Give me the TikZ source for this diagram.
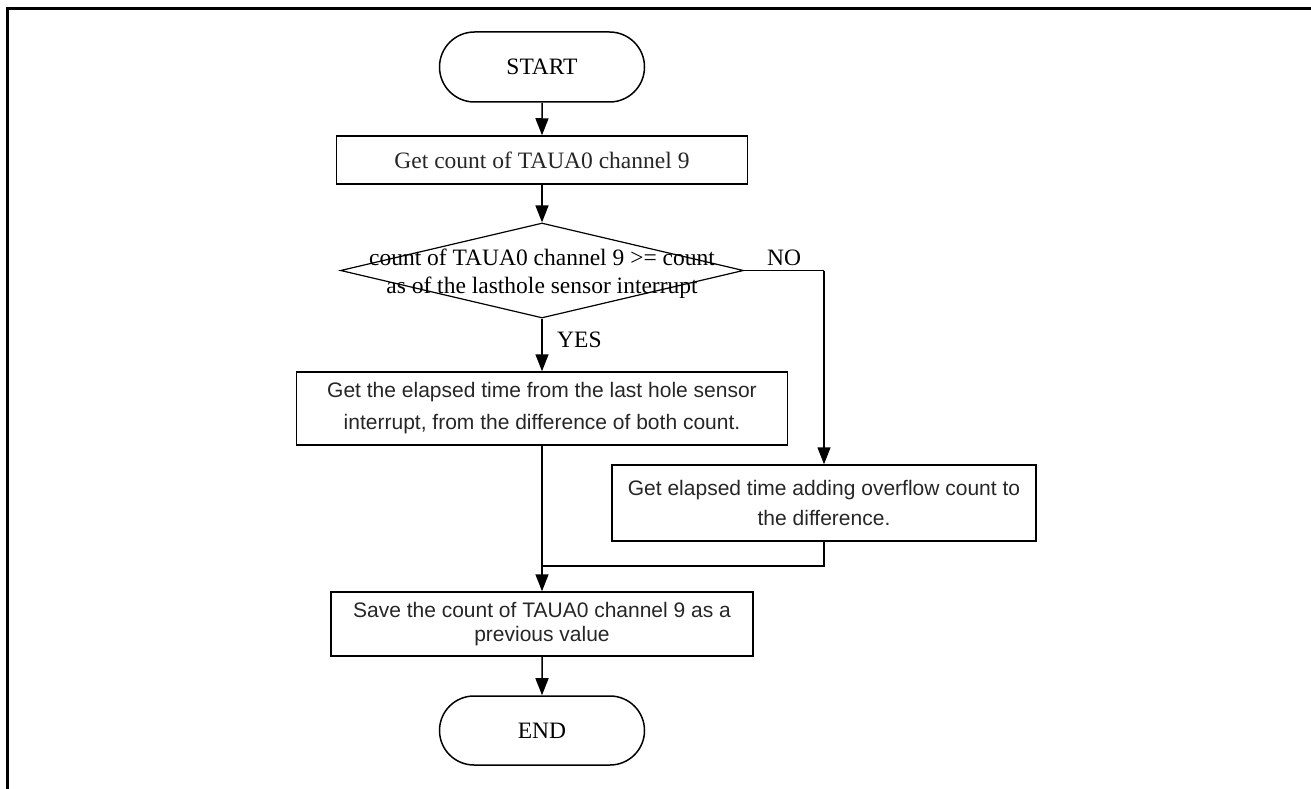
\documentclass[tikz,border=0pt]{standalone}
\usepackage{fontspec}
\setmainfont{Liberation Serif}
\setsansfont{Liberation Sans}
\usetikzlibrary{shapes.geometric,shapes.misc,arrows.meta}
\tikzset{
  serif/.style={font=\fontsize{23.5}{28}\selectfont\rmfamily},
  sansA/.style={font=\fontsize{21}{32}\selectfont\sffamily},
  sansB/.style={font=\fontsize{21}{30}\selectfont\sffamily},
  sansC/.style={font=\fontsize{21}{24}\selectfont\sffamily},
  procbox/.style={draw, line width=1.5pt, inner sep=0pt, align=center, text=black!85},
  termbox/.style={draw, rounded rectangle, line width=1.5pt, inner sep=0pt,
    minimum width=205pt, minimum height=70pt, serif},
  decbox/.style={draw, diamond, line width=1.2pt, inner sep=0pt,
    minimum width=403pt, minimum height=95pt},
  arr/.style={-{Triangle[width=13pt,length=17pt]}, line width=1.5pt},
  conn/.style={line width=1.5pt}
}
\begin{document}
\begin{tikzpicture}[x=1pt,y=-1pt]
\useasboundingbox (0,0) rectangle (1311,789);
% page frame
\draw[line width=3pt] (7.5,789) -- (7.5,8.5) -- (1311,8.5);

\node[termbox] (start) at (542,67) {START};
\node[procbox, serif, minimum width=411pt, minimum height=48pt] (b1) at (542,160) {Get count of TAUA0 channel 9};
\node[decbox] (d) at (542,270.5) {};
\node[serif, align=center, inner sep=0pt] (dt) at (542,273.5) {count of TAUA0 channel 9 >= count\\as of the lasthole sensor interrupt};
\node[procbox, sansA, minimum width=491pt, minimum height=73pt] (b2) at (542,408.5) {Get the elapsed time from the last hole sensor\\interrupt, from the difference of both count.};
\node[procbox, sansB, minimum width=424pt, minimum height=76pt] (b3) at (824,503) {Get elapsed time adding overflow count to\\the difference.};
\node[procbox, sansC, minimum width=422pt, minimum height=64pt] (b4) at (542,624) {Save the count of TAUA0 channel 9 as a\\previous value};
\node[termbox, minimum height=69pt] (end) at (542,730.5) {END};

\node[serif, anchor=base, inner sep=0pt] (no) at (784,265) {NO};
\node[serif, anchor=base west, inner sep=0pt] (yes) at (557,347) {YES};

\coordinate (c1) at (824,270.5);
\coordinate (j) at (542,566);

\draw[arr] (start) -- (b1);
\draw[arr] (b1) -- (d);
\draw[arr] (d.south) -- (b2.north);
\draw[conn] (d.east) -- (c1);
\draw[arr] (c1) -- (b3.north);
\draw[arr] (b2) -- (b4);
\draw[conn] (b3.south) |- (j);
\draw[arr] (b4) -- (end);
\end{tikzpicture}
\end{document}
